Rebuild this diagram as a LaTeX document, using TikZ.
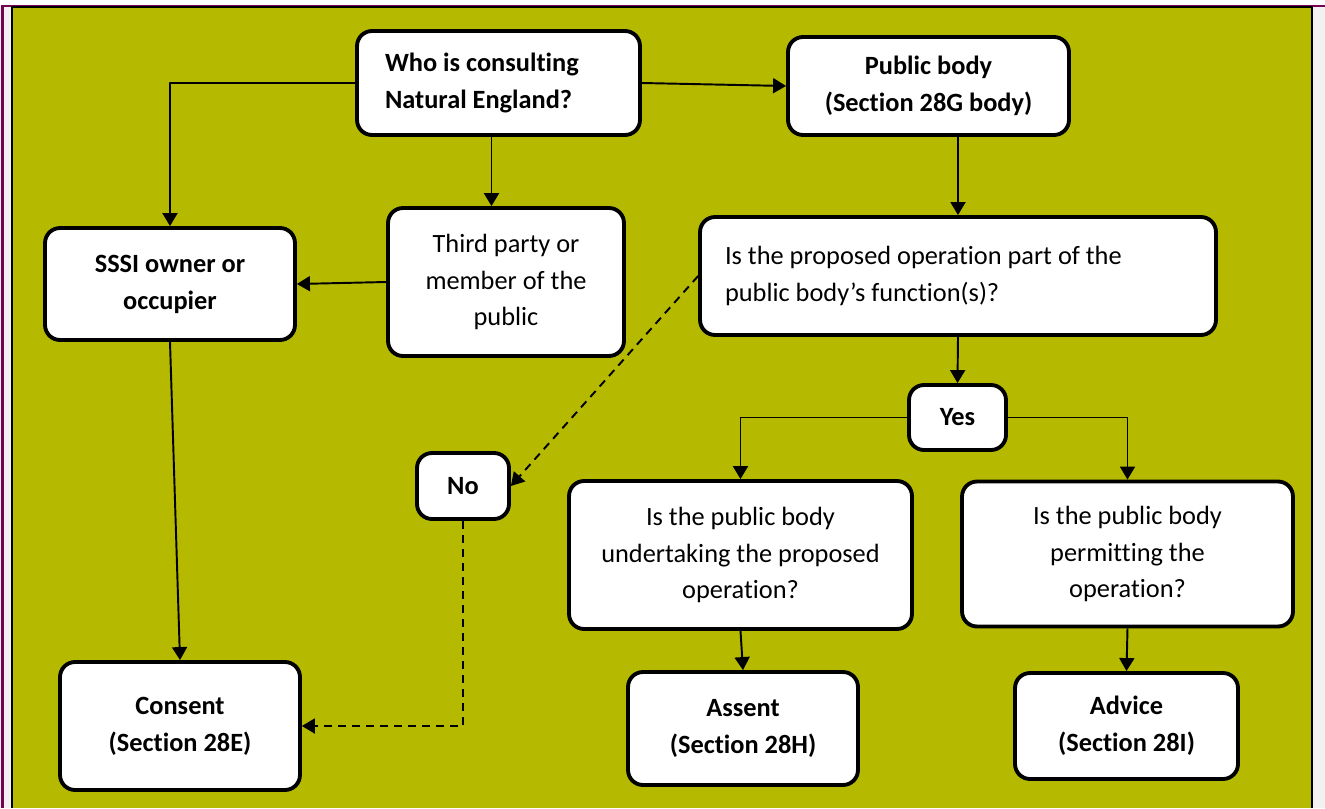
\documentclass[tikz,border=0pt]{standalone}
\usepackage{fontspec}
\setmainfont{Carlito}[Ligatures=NoCommon]
\usetikzlibrary{arrows.meta}
\definecolor{bgolive}{RGB}{181,186,0}
\definecolor{framegray}{RGB}{242,242,242}
\definecolor{framemagenta}{RGB}{118,0,82}
\tikzset{
	box/.style={draw, line width=2.2pt, rounded corners=0.3cm, fill=white, align=center, inner sep=0pt},
	strong/.style={font=\fontsize{15}{21}\selectfont\bfseries},
	link/.style={line width=1.1pt, -{Triangle[length=0.26cm,width=0.3cm]}},
	nolink/.style={link, dash pattern=on 0.16cm off 0.12cm},
}
\begin{document}
\begin{tikzpicture}[x=0.02cm, y=-0.02cm, font=\fontsize{15}{21}\selectfont, line join=round]
			\useasboundingbox (0,0) rectangle (1325,808);
			% frame and background
			\fill[white] (0,0) rectangle (1325,808);
			\fill[framegray] (0,7) rectangle (12,808);
			\fill[framegray] (1312,7) rectangle (1325,808);
			\draw[framemagenta, line width=0.06cm] (2.5,6) -- (2.5,808);
			\draw[framemagenta, line width=0.04cm] (1,6) -- (1325,6);
			\fill[bgolive] (12,7) rectangle (1312,808);
			\draw[line width=0.03cm] (12,808) -- (12,7) -- (1312,7) -- (1312,808);
			% boxes
			\node[box, strong, align=flush left, text width=4.54cm, minimum width=5.66cm, minimum height=2.08cm] (who) at (498.5,83) {Who is consulting\\Natural England?};
			\node[box, strong, minimum width=5.62cm, minimum height=1.96cm] (pub) at (928.5,86) {Public body\\(Section 28G body)};
			\node[box, strong, minimum width=5.00cm, minimum height=2.24cm] (sssi) at (170,284) {SSSI owner or\\occupier};
			\node[box, minimum width=4.72cm, minimum height=2.96cm] (third) at (506,282) {Third party or\\member of the\\public};
			\node[box, align=flush left, text width=9.32cm, minimum width=10.32cm, minimum height=2.36cm] (func) at (958,276) {Is the proposed operation part of the\\public body’s function(s)?};
			\node[box, strong, minimum width=1.94cm, minimum height=1.30cm] (yes) at (957.5,417.5) {Yes};
			\node[box, strong, minimum width=1.84cm, minimum height=1.32cm] (no) at (463,486) {No};
			\node[box, minimum width=6.86cm, minimum height=2.96cm] (under) at (740.5,555) {Is the public body\\undertaking the proposed\\operation?};
			\node[box, minimum width=6.62cm, minimum height=2.90cm] (permit) at (1127.5,554) {Is the public body\\permitting the\\operation?};
			\node[box, strong, minimum width=4.80cm, minimum height=2.56cm] (consent) at (180,726) {Consent\\(Section 28E)};
			\node[box, strong, minimum width=4.60cm, minimum height=2.26cm] (assent) at (743,728.5) {Assent\\(Section 28H)};
			\node[box, strong, minimum width=4.46cm, minimum height=2.12cm] (advice) at (1126.5,726) {Advice\\(Section 28I)};
			% connectors
			\draw[link] (who.west) -| (sssi.north);
			\draw[link] (who.east) -- (pub.west);
			\draw[link] ([xshift=-0.14cm]who.south) -- ([xshift=-0.14cm]who.south |- third.north);
			\draw[link] (third.west) -- (sssi.east);
			\draw[link] (pub.south -| func.north) -- (func.north);
			\draw[link] (func.south) -- (yes.north);
			\draw[link] (yes.west) -| (under.north);
			\draw[link] (yes.east) -| (permit.north);
			\draw[nolink] (func.west) -- (no.east);
			\draw[nolink] (no.south) |- (consent.east);
			\draw[link] (sssi.south) -- (consent.north);
			\draw[link] (under.south) -- (assent.north);
			\draw[link] (permit.south) -- (advice.north);
		\end{tikzpicture}
\end{document}
